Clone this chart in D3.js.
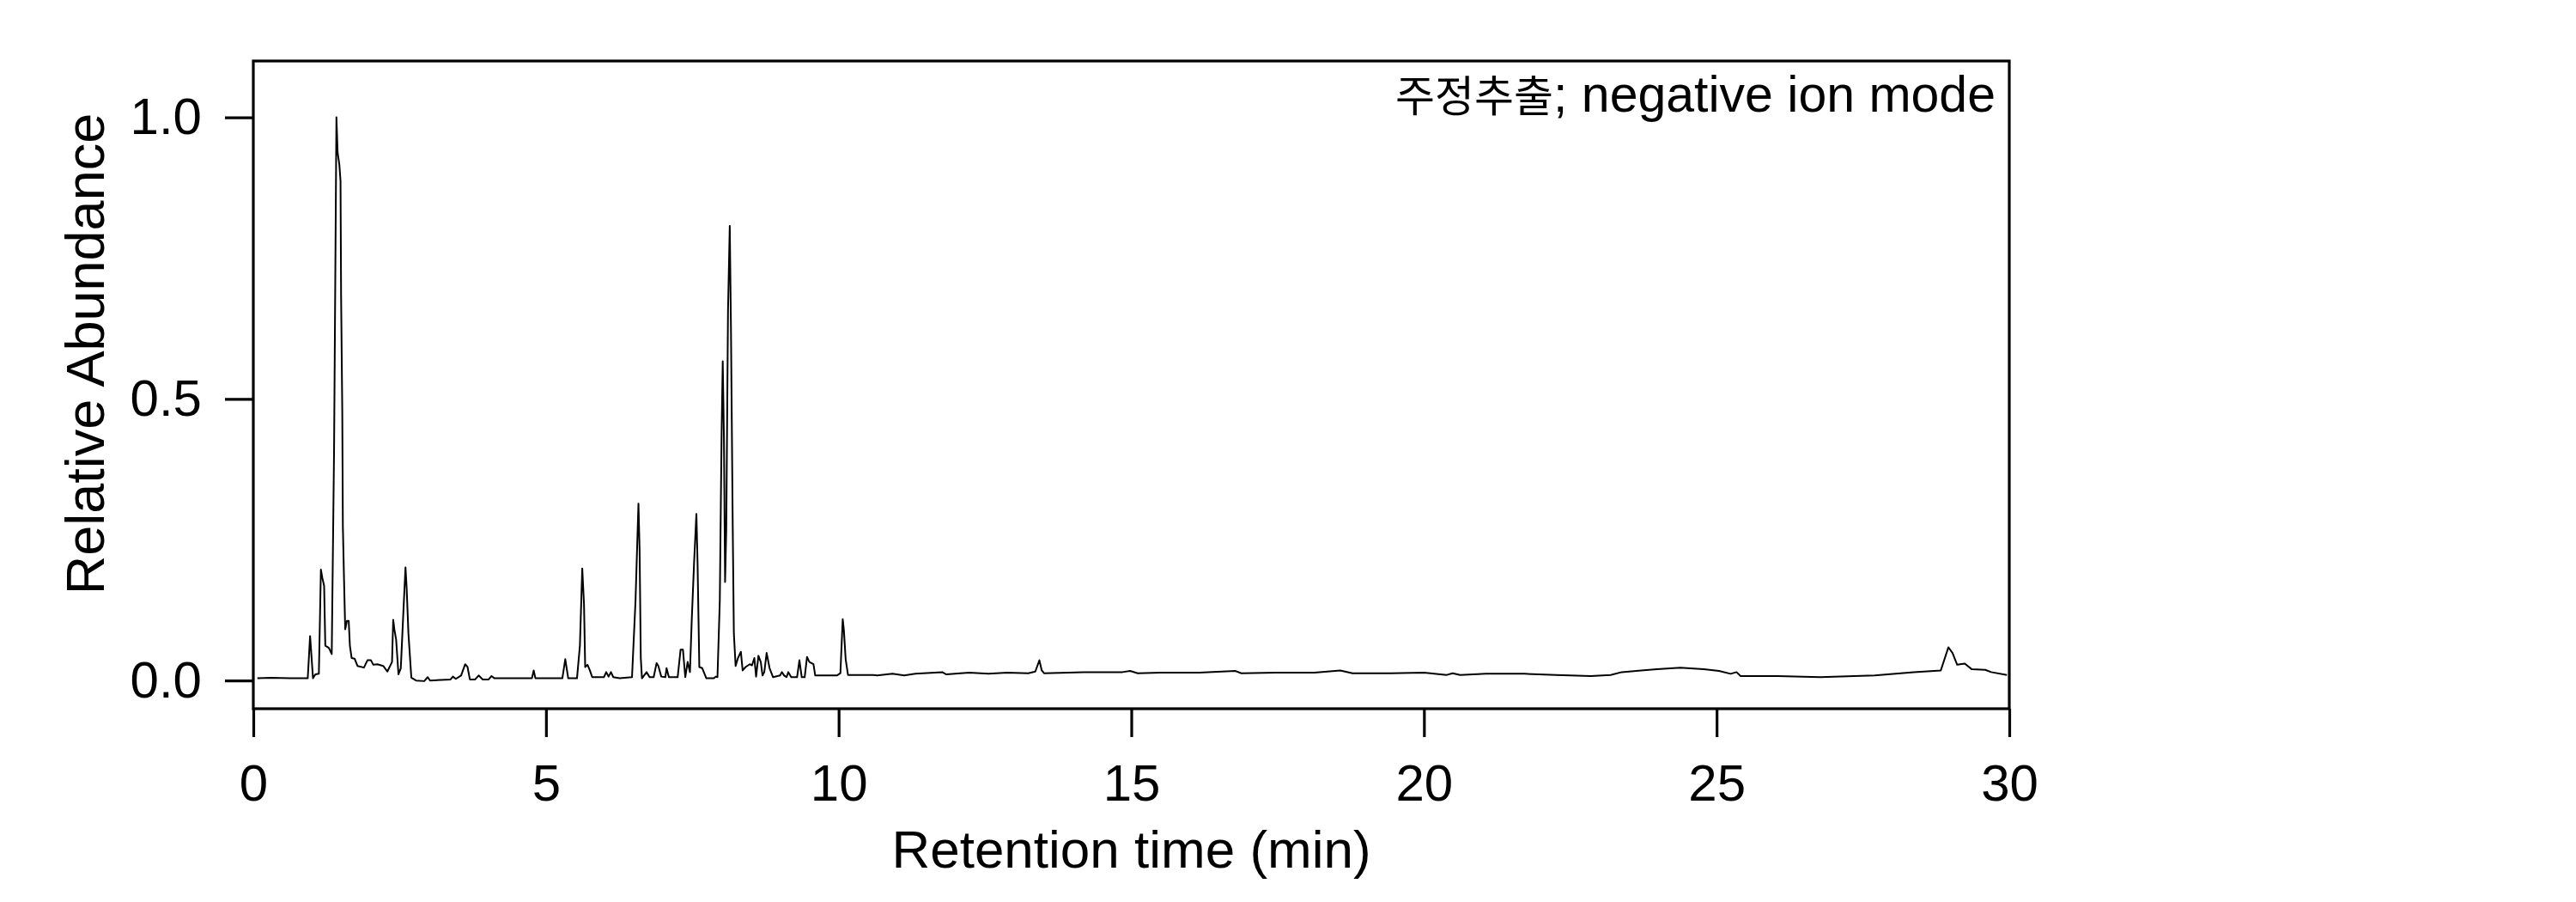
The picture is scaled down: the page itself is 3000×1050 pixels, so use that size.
<!DOCTYPE html>
<html>
<head>
<meta charset="utf-8">
<script src="https://cdn.jsdelivr.net/npm/d3@7"></script>
<style>
  html, body { margin: 0; padding: 0; background: #fff; }
  svg { display: block; }
  text { font-family: "Liberation Sans", Arial, sans-serif; fill: #000; }
</style>
</head>
<body>
<svg id="chart" width="3000" height="1050"></svg>
<script>
// ---- data ----
const retentionTime = [
  0.07, 0.30, 0.63, 0.93, 0.97, 1.02, 1.06, 1.12, 1.155, 1.18, 1.21, 1.23, 1.29, 1.34,
  1.38, 1.40, 1.42, 1.44, 1.47, 1.49, 1.50, 1.52, 1.53, 1.55, 1.57, 1.60, 1.63, 1.65,
  1.68, 1.73, 1.78, 1.89, 1.95, 2.01, 2.05, 2.12, 2.22, 2.29, 2.37, 2.39, 2.41, 2.44,
  2.48, 2.52, 2.56, 2.60, 2.62, 2.65, 2.70, 2.78, 2.92, 2.98, 3.02, 3.37, 3.41, 3.46,
  3.55, 3.62, 3.66, 3.70, 3.79, 3.85, 3.92, 4.02, 4.07, 4.12, 4.36, 4.76, 4.79, 4.82,
  5.28, 5.33, 5.38, 5.53, 5.58, 5.62, 5.65, 5.67, 5.71, 5.75, 5.79, 5.99, 6.03, 6.07,
  6.11, 6.15, 6.26, 6.47, 6.53, 6.58, 6.60, 6.62, 6.64, 6.72, 6.77, 6.84, 6.89, 6.92,
  6.97, 7.04, 7.06, 7.10, 7.25, 7.30, 7.34, 7.38, 7.42, 7.46, 7.49, 7.53, 7.57, 7.59,
  7.62, 7.67, 7.74, 7.87, 7.90, 7.93, 7.97, 8.00, 8.02, 8.04, 8.06, 8.08, 8.11, 8.14,
  8.16, 8.19, 8.21, 8.24, 8.28, 8.33, 8.36, 8.41, 8.48, 8.52, 8.56, 8.59, 8.63, 8.67,
  8.70, 8.73, 8.77, 8.82, 8.88, 9.00, 9.03, 9.07, 9.11, 9.14, 9.19, 9.29, 9.33, 9.37,
  9.42, 9.46, 9.50, 9.57, 9.60, 9.97, 10.03, 10.07, 10.09, 10.12, 10.16, 10.59, 10.66,
  10.92, 11.12, 11.31, 11.77, 11.84, 12.23, 12.56, 12.88, 13.24, 13.36, 13.43, 13.47,
  13.51, 14.19, 14.85, 14.98, 15.11, 15.50, 16.16, 16.78, 16.88, 17.47, 18.13, 18.57,
  18.78, 19.43, 20.00, 20.39, 20.49, 20.62, 21.06, 21.72, 22.26, 22.85, 23.19, 23.38,
  23.71, 23.98, 24.38, 24.78, 25.04, 25.24, 25.34, 25.41, 26.04, 26.77, 27.70, 28.37,
  28.83, 28.96, 29.03, 29.11, 29.24, 29.36, 29.59, 29.69, 29.96
];
const relAbundance = [
  0.004, 0.005, 0.004, 0.004, 0.079, 0.004, 0.011, 0.012, 0.197, 0.182, 0.168, 0.062, 0.058, 0.047,
  0.412, 0.704, 1.000, 0.938, 0.916, 0.887, 0.682, 0.478, 0.274, 0.179, 0.091, 0.106, 0.106, 0.062,
  0.040, 0.039, 0.026, 0.023, 0.036, 0.036, 0.028, 0.029, 0.026, 0.016, 0.033, 0.108, 0.091, 0.073,
  0.011, 0.022, 0.113, 0.201, 0.164, 0.084, 0.005, 0.000, -0.001, 0.006, 0.000, 0.002, 0.007, 0.003,
  0.009, 0.029, 0.024, 0.002, 0.002, 0.009, 0.002, 0.002, 0.008, 0.004, 0.004, 0.004, 0.018, 0.004,
  0.004, 0.038, 0.004, 0.004, 0.062, 0.199, 0.135, 0.024, 0.028, 0.018, 0.006, 0.006, 0.015, 0.007,
  0.015, 0.006, 0.004, 0.006, 0.142, 0.314, 0.230, 0.040, 0.004, 0.015, 0.006, 0.006, 0.031, 0.026,
  0.007, 0.006, 0.022, 0.006, 0.006, 0.055, 0.055, 0.006, 0.033, 0.015, 0.106, 0.208, 0.296, 0.208,
  0.024, 0.022, 0.004, 0.004, 0.007, 0.006, 0.142, 0.434, 0.567, 0.434, 0.175, 0.266, 0.657, 0.807,
  0.631, 0.281, 0.084, 0.026, 0.040, 0.051, 0.018, 0.024, 0.029, 0.027, 0.040, 0.007, 0.044, 0.033,
  0.009, 0.015, 0.049, 0.022, 0.006, 0.009, 0.015, 0.009, 0.006, 0.015, 0.006, 0.006, 0.036, 0.006,
  0.006, 0.042, 0.033, 0.029, 0.009, 0.009, 0.013, 0.109, 0.089, 0.038, 0.010, 0.010, 0.009,
  0.012, 0.009, 0.012, 0.015, 0.011, 0.014, 0.012, 0.014, 0.013, 0.016, 0.036, 0.018,
  0.013, 0.015, 0.015, 0.017, 0.013, 0.014, 0.014, 0.017, 0.013, 0.014, 0.014, 0.018,
  0.013, 0.013, 0.014, 0.010, 0.013, 0.010, 0.012, 0.012, 0.010, 0.008, 0.010, 0.015,
  0.018, 0.020, 0.023, 0.020, 0.017, 0.012, 0.015, 0.008, 0.008, 0.006, 0.009, 0.015,
  0.018, 0.059, 0.049, 0.028, 0.030, 0.020, 0.019, 0.015, 0.010
];
const xTickValues = [0, 5, 10, 15, 20, 25, 30];
const yTickValues = [0.0, 0.5, 1.0];
const xDomain = [0, 30];
const yDomain = [-0.05, 1.1];
const xTitle = "Retention time (min)";
const yTitle = "Relative Abundance";
const annotationKo = "주정추출";
const annotationEn = "; negative ion mode";

// ---- layout ----
const W = 3000, H = 1050;
const plot = { left: 295, right: 2340, top: 71, bottom: 825 };

const svg = d3.select("#chart");
const x = d3.scaleLinear().domain(xDomain).range([plot.left, plot.right]);
const y = d3.scaleLinear().domain(yDomain).range([plot.bottom, plot.top]);

const points = retentionTime.map((t, i) => [t, relAbundance[i]]);

// data line
svg.append("path")
  .datum(points)
  .attr("fill", "none")
  .attr("stroke", "#000")
  .attr("stroke-width", 2)
  .attr("stroke-linejoin", "round")
  .attr("d", d3.line().x(d => x(d[0])).y(d => y(d[1])));

// frame
svg.append("rect")
  .attr("x", plot.left).attr("y", plot.top)
  .attr("width", plot.right - plot.left)
  .attr("height", plot.bottom - plot.top)
  .attr("fill", "none").attr("stroke", "#000").attr("stroke-width", 3.2);

// x axis
const gx = svg.append("g")
  .attr("transform", `translate(0,${plot.bottom})`)
  .call(d3.axisBottom(x).tickValues(xTickValues).tickFormat(d3.format("d"))
        .tickSize(33).tickPadding(31));
gx.select(".domain").remove();
gx.selectAll(".tick line").attr("stroke", "#000").attr("stroke-width", 3.2);
gx.selectAll(".tick text").attr("font-size", 60)
  .attr("font-family", '"Liberation Sans", Arial, sans-serif').attr("fill", "#000");

// y axis
const gy = svg.append("g")
  .attr("transform", `translate(${plot.left},0)`)
  .call(d3.axisLeft(y).tickValues(yTickValues).tickFormat(d3.format(".1f"))
        .tickSize(33).tickPadding(27));
gy.select(".domain").remove();
gy.selectAll(".tick line").attr("stroke", "#000").attr("stroke-width", 3.2);
gy.selectAll(".tick text").attr("font-size", 60)
  .attr("font-family", '"Liberation Sans", Arial, sans-serif').attr("fill", "#000");

// axis titles
svg.append("text")
  .attr("x", (plot.left + plot.right) / 2)
  .attr("y", 1010)
  .attr("text-anchor", "middle")
  .attr("font-size", 62)
  .text(xTitle);

svg.append("text")
  .attr("transform", "translate(121,412) rotate(-90)")
  .attr("text-anchor", "middle")
  .attr("font-size", 63)
  .text(yTitle);

// annotation
const ann = svg.append("text")
  .attr("x", 2324).attr("y", 130)
  .attr("text-anchor", "end");
ann.append("tspan")
  .attr("font-family", '"Noto Sans CJK KR", "Noto Sans CJK SC", sans-serif')
  .attr("font-size", 50)
  .text(annotationKo);
ann.append("tspan")
  .attr("font-family", '"Liberation Sans", Arial, sans-serif')
  .attr("font-size", 59)
  .text(annotationEn);
</script>
</body>
</html>
